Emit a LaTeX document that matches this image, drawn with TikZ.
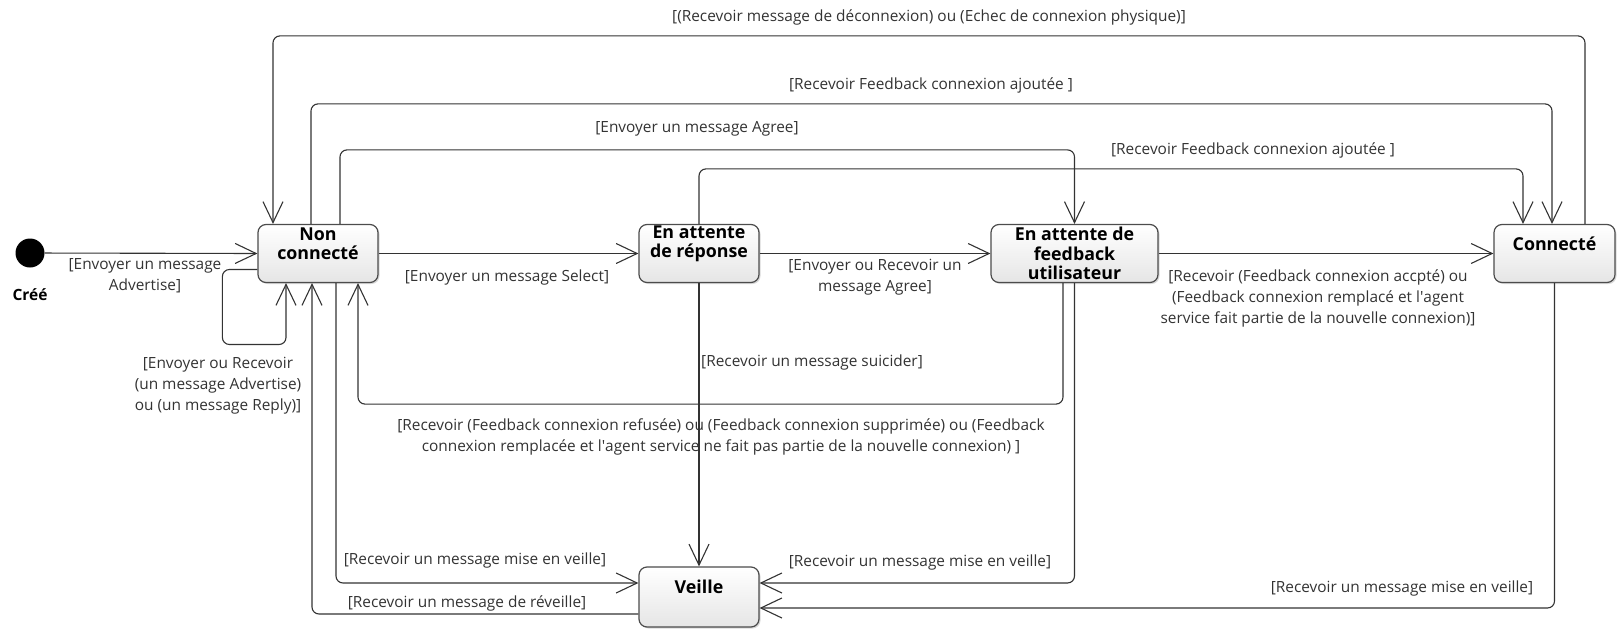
\documentclass[tikz,border=0pt]{standalone}
\usepackage{fontspec}
\setmainfont{Open Sans}
\usetikzlibrary{arrows.meta,shadows}
\newcommand{\lblfont}{\fontsize{15.4}{21}\selectfont}
\newcommand{\namefont}{\fontsize{17.8}{19.5}\selectfont\bfseries}
\tikzset{
  state/.style={draw=black!70, line width=1.2pt, rounded corners=8pt, top color=white, bottom color=black!10,
    minimum width=120pt, minimum height=58pt, inner sep=0pt,
    drop shadow={shadow xshift=1.5pt, shadow yshift=-1.5pt, opacity=0.3}},
  sname/.style={anchor=center, yshift=-20pt, font=\namefont, align=center, inner sep=0pt},
  tr/.style={draw=black!80, line width=1.1pt, rounded corners=7pt,
    -{Straight Barb[length=21pt,width=20pt,line width=1.1pt]}},
  lbl/.style={font=\lblfont, text=black!80, align=center, inner sep=0pt}
}
\begin{document}
\begin{tikzpicture}[x=1pt,y=-1pt]
\useasboundingbox (0,0) rectangle (1618,629);
% etats
\node[circle, fill=black, minimum size=29pt, inner sep=0pt] (init) at (30,253) {};
\node[font=\fontsize{15.5}{17}\selectfont\bfseries, inner sep=0pt] (cree) at (30,295) {Créé};
\node[state, label={[sname]north:{Non\\connecté}}] (nc) at (318,253.5) {};
\node[state, label={[sname]north:{En attente\\de réponse}}] (rep) at (699,253.5) {};
\node[state, minimum width=167pt, font=\namefont, align=center] (fb) at (1074.5,253.5) {En attente de\\feedback\\utilisateur};
\node[state, minimum width=121pt, label={[sname]north:{Connecté}}] (con) at (1554.5,253.5) {};
\node[state, minimum height=60pt, label={[sname]north:{Veille}}] (veille) at (699,597) {};

% transitions
\draw[tr] (init) -- (nc.west);
\draw[tr] ([yshift=-16pt]nc.west) -- ++(-35,0) -- ++(0,75) -| ([xshift=-32pt]nc.south);
\draw[tr] (nc) -- (rep);
\draw[tr] (rep) -- (fb);
\draw[tr] (fb) -- (con);
\draw[tr] ([xshift=30.5pt]con.north) -- ++(0,-188) -| ([xshift=-45pt]nc.north);
\draw[tr] ([xshift=-7pt]nc.north) -- ++(0,-120) -| ([xshift=-2.5pt]con.north);
\draw[tr] ([xshift=22pt]nc.north) -- ++(0,-74) -| (fb.north);
\draw[tr] (rep.north) -- ++(0,-55) -| ([xshift=-31.5pt]con.north);
\draw[tr] (rep.south) -- (veille.north);
\draw[tr] ([xshift=-11.5pt]fb.south) -- ++(0,121) -| ([xshift=40pt]nc.south);
\draw[tr] ([xshift=18pt]nc.south) |- ([yshift=14pt]veille.west);
\draw[tr] ([yshift=-17pt]veille.west) -| ([xshift=-6pt]nc.south);
\draw[tr] (fb.south) |- ([yshift=14pt]veille.east);
\draw[tr] (con.south) |- ([yshift=-11pt]veille.east);

% gardes
\node[lbl] (l-adv) at (145,276) {[Envoyer un message\\Advertise]};
\node[lbl] (l-self) at (218,386) {[Envoyer ou Recevoir\\(un message Advertise)\\ou (un message Reply)]};
\node[lbl] (l-sel) at (507,277) {[Envoyer un message Select]};
\node[lbl] (l-agr) at (875,277) {[Envoyer ou Recevoir un\\message Agree]};
\node[lbl] (l-acc) at (1318,298) {[Recevoir (Feedback connexion accpté) ou\\(Feedback connexion remplacé et l\textquotesingle agent\\service fait partie de la nouvelle connexion)]};
\node[lbl] (l-dec) at (929,17) {[(Recevoir message de déconnexion) ou (Echec de connexion physique)]};
\node[lbl] (l-aj1) at (931,85) {[Recevoir Feedback connexion ajoutée ]};
\node[lbl] (l-env) at (697,129) {[Envoyer un message Agree]};
\node[lbl] (l-aj2) at (1253,150) {[Recevoir Feedback connexion ajoutée ]};
\node[lbl, anchor=west] (l-sui) at (701,362) {[Recevoir un message suicider]};
\node[lbl] (l-ref) at (721,437) {[Recevoir (Feedback connexion refusée) ou (Feedback connexion supprimée) ou (Feedback\\connexion remplacée et l\textquotesingle agent service ne fait pas partie de la nouvelle connexion) ]};
\node[lbl] (l-mv1) at (475,560) {[Recevoir un message mise en veille]};
\node[lbl] (l-rev) at (467,603) {[Recevoir un message de réveille]};
\node[lbl] (l-mv2) at (920,562) {[Recevoir un message mise en veille]};
\node[lbl] (l-mv3) at (1402,588) {[Recevoir un message mise en veille]};
\end{tikzpicture}
\end{document}
